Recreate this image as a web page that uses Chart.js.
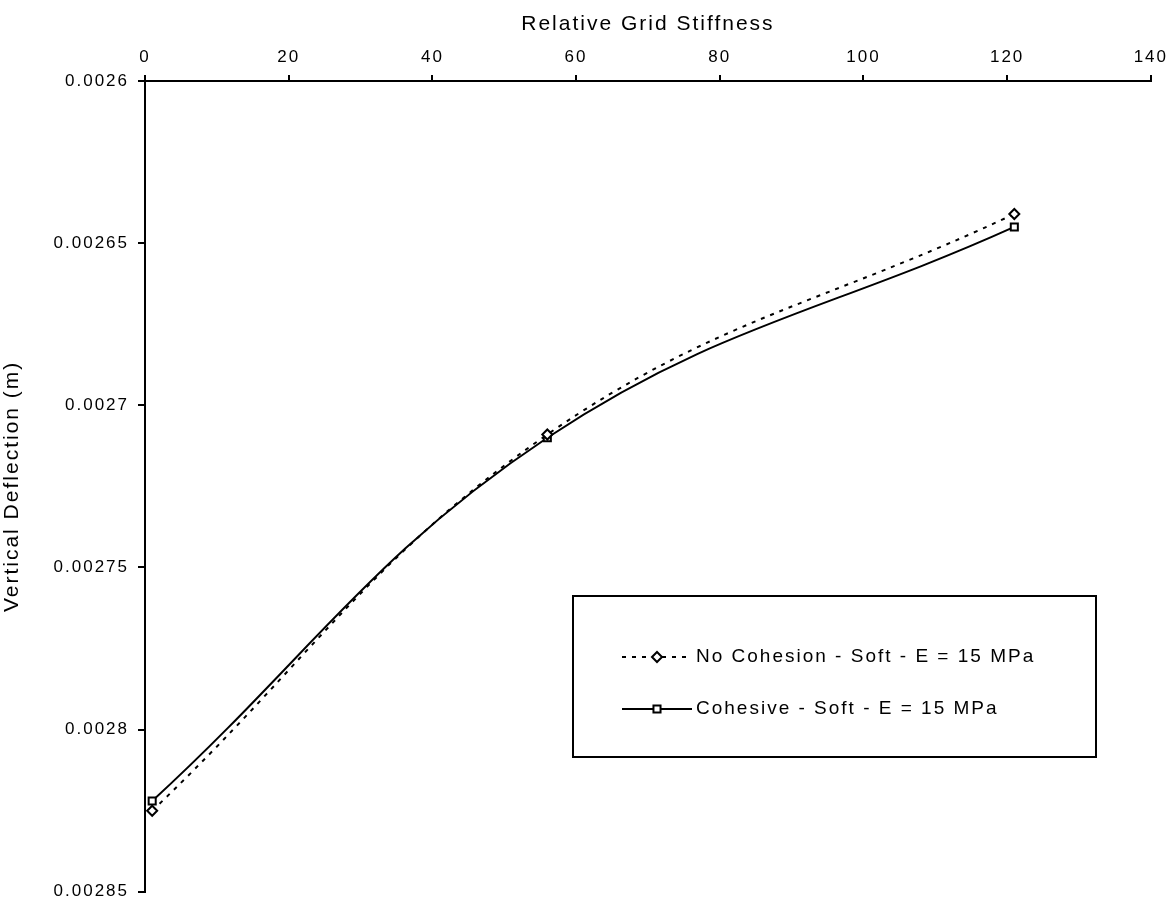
<!DOCTYPE html>
<html>
<head>
<meta charset="utf-8">
<script src="https://cdn.jsdelivr.net/npm/chart.js@4.4.1/dist/chart.umd.min.js"></script>
<style>
  html, body { margin: 0; padding: 0; background: #fff; }
  #wrap { width: 1175px; height: 911px; }
</style>
</head>
<body>
<div id="wrap"><canvas id="grafico" width="1175" height="911"></canvas></div>
<script>
// Datos
const stiffness = [1, 56, 121];
const noCohesion = [0.002825, 0.002709, 0.002641];
const cohesive = [0.002822, 0.00271, 0.002645];
const xTicks = [0, 20, 40, 60, 80, 100, 120, 140];
const yTicks = [0.0026, 0.00265, 0.0027, 0.00275, 0.0028, 0.00285];

const labelNo = 'No Cohesion - Soft - E = 15 MPa';
const labelCo = 'Cohesive - Soft - E = 15 MPa';

const FONT = "'Liberation Sans', Arial, sans-serif";
const SPACING = '2px';

const espaciado = {
  id: 'espaciado',
  beforeLayout(chart) { chart.ctx.letterSpacing = SPACING; },
  beforeDraw(chart) { chart.ctx.letterSpacing = SPACING; }
};

// leyenda dentro del área del gráfico, con caja
const leyenda = {
  id: 'leyenda',
  afterDraw(chart) {
    const c = chart.ctx;
    const box = { x: 573, y: 596, w: 523, h: 161 };
    c.save();
    c.letterSpacing = SPACING;
    c.lineWidth = 2;
    c.strokeStyle = '#000';
    c.fillStyle = '#fff';
    c.fillRect(box.x, box.y, box.w, box.h);
    c.strokeRect(box.x, box.y, box.w, box.h);
    const rows = [657, 709];
    chart.data.datasets.forEach((ds, i) => {
      const y = rows[i];
      c.beginPath();
      c.setLineDash(ds.borderDash || []);
      c.lineWidth = ds.borderWidth;
      c.strokeStyle = '#000';
      c.moveTo(622, y);
      c.lineTo(692, y);
      c.stroke();
      c.setLineDash([]);
      c.fillStyle = '#fff';
      Chart.helpers.drawPoint(c, {
        pointStyle: ds.pointStyle,
        radius: ds.pointRadius,
        borderWidth: ds.pointBorderWidth
      }, 657, y);
      c.fillStyle = '#000';
      c.font = '19px ' + FONT;
      c.textBaseline = 'middle';
      c.textAlign = 'left';
      c.fillText(ds.label, 696, y);
    });
    c.restore();
  }
};

const ctx = document.getElementById('grafico').getContext('2d');

new Chart(ctx, {
  type: 'line',
  data: {
    datasets: [
      {
        label: labelNo,
        data: stiffness.map((x, i) => ({ x, y: noCohesion[i] })),
        borderColor: '#000',
        borderWidth: 2,
        borderDash: [4, 6],
        pointStyle: 'rectRot',
        pointRadius: 5,
        pointBorderWidth: 2,
        pointBackgroundColor: '#fff',
        pointBorderColor: '#000',
        tension: 0.4,
        fill: false
      },
      {
        label: labelCo,
        data: stiffness.map((x, i) => ({ x, y: cohesive[i] })),
        borderColor: '#000',
        borderWidth: 2,
        pointStyle: 'rect',
        pointRadius: 5,
        pointBorderWidth: 2,
        pointBackgroundColor: '#fff',
        pointBorderColor: '#000',
        tension: 0.4,
        fill: false
      }
    ]
  },
  options: {
    responsive: false,
    animation: false,
    layout: { padding: { right: 22, bottom: 14 } },
    plugins: {
      legend: { display: false },
      tooltip: { enabled: false }
    },
    scales: {
      x: {
        type: 'linear',
        position: 'top',
        min: 0,
        max: 140,
        afterBuildTicks: s => { s.ticks = xTicks.map(v => ({ value: v })); },
        afterFit: s => { s.height = 81; },
        grid: { drawOnChartArea: false, color: '#000', tickLength: 6, lineWidth: 2 },
        border: { color: '#000', width: 2 },
        ticks: { color: '#000', font: { family: FONT, size: 17 }, padding: 7, maxRotation: 0 },
        title: { display: true, text: 'Relative Grid Stiffness', color: '#000', font: { family: FONT, size: 21 }, padding: { top: 12, bottom: 4 } }
      },
      y: {
        type: 'linear',
        reverse: true,
        min: 0.0026,
        max: 0.00285,
        afterBuildTicks: s => { s.ticks = yTicks.map(v => ({ value: v })); },
        afterFit: s => { s.width = 145; },
        grid: { drawOnChartArea: false, color: '#000', tickLength: 7, lineWidth: 2 },
        border: { color: '#000', width: 2 },
        ticks: {
          color: '#000',
          font: { family: FONT, size: 17 },
          padding: 9,
          callback: v => String(Number(v.toFixed(6)))
        },
        title: { display: true, text: 'Vertical Deflection (m)', color: '#000', font: { family: FONT, size: 21 }, padding: { top: 0, bottom: 8 } }
      }
    }
  },
  plugins: [espaciado, leyenda]
});
</script>
</body>
</html>
